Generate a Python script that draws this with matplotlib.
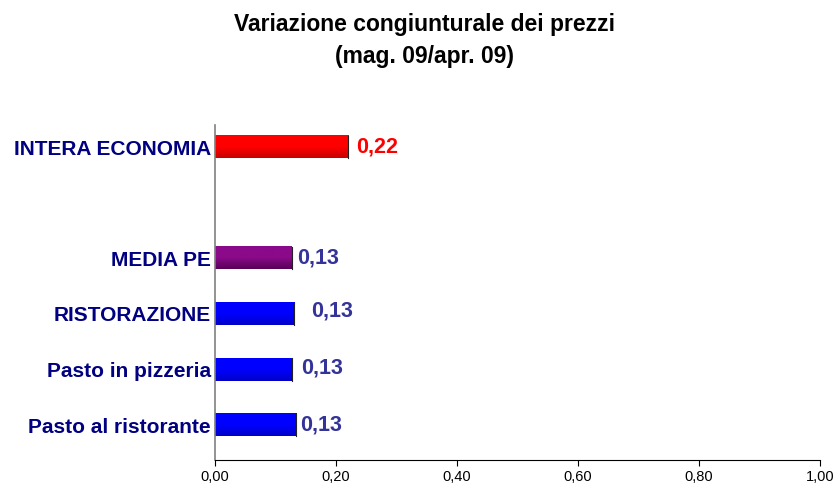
import numpy as np
import matplotlib
matplotlib.use("Agg")
import matplotlib.pyplot as plt
from matplotlib.colors import LinearSegmentedColormap

plt.rcParams['font.family'] = ['Liberation Sans', 'DejaVu Sans']

# dati
categorie = ['INTERA ECONOMIA', '', 'MEDIA PE', 'RISTORAZIONE',
             'Pasto in pizzeria', 'Pasto al ristorante']
valori = [0.22, np.nan, 0.127, 0.131, 0.127, 0.134]
etichette = ['0,22', '', '0,13', '0,13', '0,13', '0,13']
xticks = [0.0, 0.2, 0.4, 0.6, 0.8, 1.0]
xticklabels = ['0,00', '0,20', '0,40', '0,60', '0,80', '1,00']

# colori (alto, basso) per sfumatura
colori = [('#ff0000', '#c80000'), None, ('#8a0a8a', '#580058'),
          ('#0000ff', '#0000c8'), ('#0000ff', '#0000c8'), ('#0000ff', '#0000c8')]
col_etichette = ['#ff0000', None, '#333399', '#333399', '#333399', '#333399']
offset_etichette = [6, 0, 4, 12, 7, 3]   # in punti
dy_etichette = [0, 0, 0, 2, 1, 0]

fig = plt.figure(figsize=(8.38, 4.9), dpi=100)
ax = fig.add_axes([215 / 838, 1 - 460 / 490, 605 / 838, (460 - 125) / 490])

y = np.arange(len(categorie))
bars = ax.barh(y, np.nan_to_num(valori), height=0.4, color='none', edgecolor='none')

# sfumatura verticale dentro ogni barra
for i, b in enumerate(bars):
    if colori[i] is None:
        continue
    cmap = LinearSegmentedColormap.from_list('g%d' % i, [colori[i][0], colori[i][0], colori[i][1]])
    grad = np.linspace(0, 1, 64).reshape(-1, 1)
    x0, y0 = b.get_x(), b.get_y()
    w, h = b.get_width(), b.get_height()
    ax.imshow(grad, cmap=cmap, aspect='auto', extent=[x0, x0 + w, y0 + h, y0],
              origin='upper', zorder=2)
    ax.plot([x0 + w, x0 + w], [y0, y0 + h], color='#222222', lw=0.8, zorder=3)
    ax.annotate(etichette[i], xy=(x0 + w, y[i]), xytext=(offset_etichette[i], dy_etichette[i]),
                textcoords='offset points', ha='left', va='center',
                fontsize=15.5, fontweight='bold', color=col_etichette[i])

ax.set_xlim(0, 1.0)
ax.set_ylim(5.63, -0.4)
ax.set_xticks(xticks)
ax.set_xticklabels(xticklabels, fontsize=10.5)
ax.set_yticks(y)
ax.set_yticklabels(categorie, fontsize=15, fontweight='bold', color='#000080')
ax.tick_params(axis='y', length=0, pad=3)
ax.tick_params(axis='x', length=4, width=0.8, pad=3, direction='out')

for s in ['top', 'right']:
    ax.spines[s].set_visible(False)
ax.spines['left'].set_color('#808080')
ax.spines['bottom'].set_color('#000000')
ax.spines['left'].set_linewidth(1.2)
ax.spines['bottom'].set_linewidth(0.8)

fig.text(0.507, 1 - 25 / 490, 'Variazione congiunturale dei prezzi', ha='center', va='center',
         fontsize=16.5, fontweight='bold')
fig.text(0.507, 1 - 57 / 490, '(mag. 09/apr. 09)', ha='center', va='center',
         fontsize=16.5, fontweight='bold')

fig.savefig('out.png', dpi=100)
